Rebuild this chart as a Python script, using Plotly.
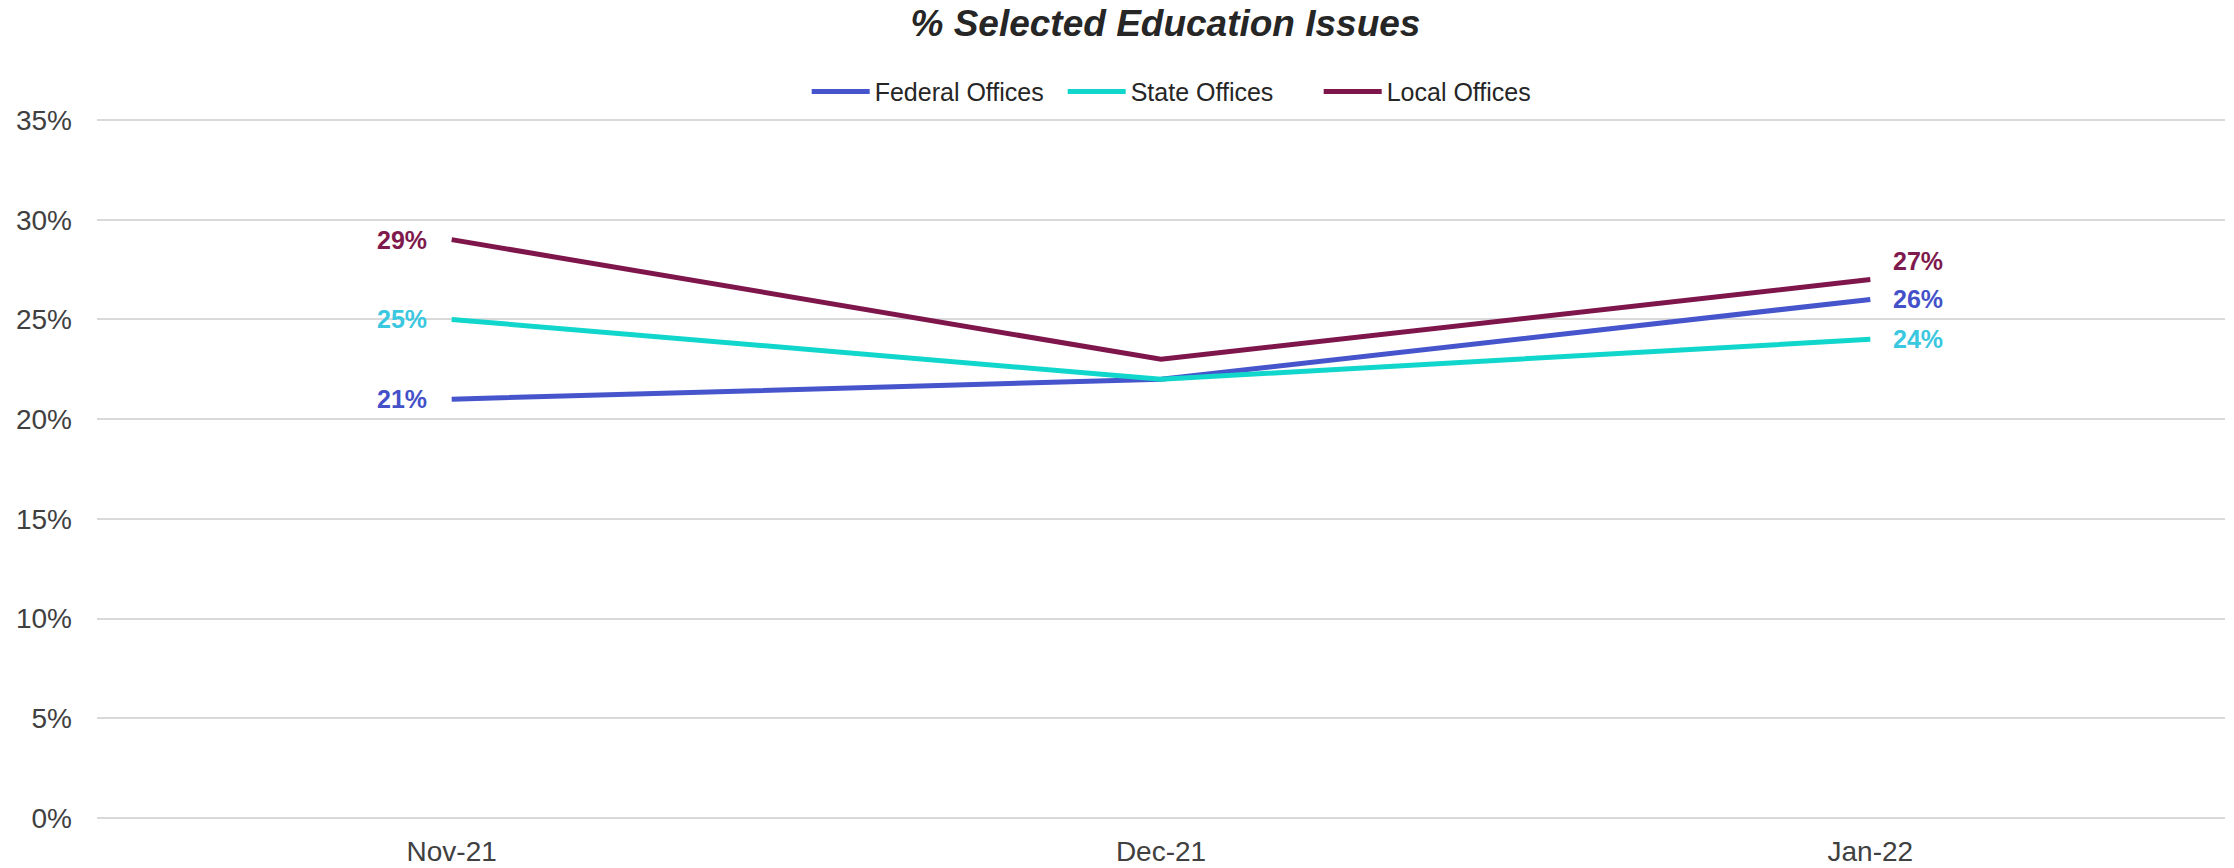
"""Line chart: % Selected Education Issues by office level."""
import plotly.graph_objects as go

months = ["Nov-21", "Dec-21", "Jan-22"]
federal = [21, 22, 26]
state = [25, 22, 24]
local = [29, 23, 27]

y_ticks = [0, 5, 10, 15, 20, 25, 30, 35]
y_tick_labels = [f"{v}%" for v in y_ticks]

_FONT = "Liberation Sans, Arial, sans-serif"

# name, values, line colour, label colour, vertical nudge of the last label
series = [
    ("Federal Offices", federal, "#4655cc", "#4451c9", 0),
    ("State Offices", state, "#10d6cb", "#3ac7e0", 0),
    ("Local Offices", local, "#7e164c", "#7e1a4d", 19),
]

fig = go.Figure()
for name, values, line_color, label_color, last_nudge in series:
    fig.add_trace(
        go.Scatter(
            x=months,
            y=values,
            name=name,
            mode="lines",
            line=dict(color=line_color, width=5),
            hoverinfo="x+y+name",
        )
    )
    # first and last point carry a bold value label
    fig.add_annotation(
        x=months[0], y=values[0], text=f"<b>{values[0]}%</b>",
        showarrow=False, xanchor="right", yanchor="middle", xshift=-23,
        font=dict(family=_FONT, size=25, color=label_color),
    )
    fig.add_annotation(
        x=months[-1], y=values[-1], text=f"<b>{values[-1]}%</b>",
        showarrow=False, xanchor="left", yanchor="middle", xshift=21, yshift=last_nudge,
        font=dict(family=_FONT, size=25, color=label_color),
    )

fig.update_layout(
    width=2234,
    height=868,
    template="simple_white",
    paper_bgcolor="white",
    plot_bgcolor="white",
    font=dict(family=_FONT, color="#404040"),
    title=dict(
        text="<b><i>% Selected Education Issues</i></b>",
        x=0.5217,
        xanchor="center",
        y=0.973,
        yanchor="middle",
        automargin=False,
        font=dict(family=_FONT, size=37, color="#262626"),
    ),
    legend=dict(
        orientation="h",
        x=0.3335,
        xanchor="left",
        y=1.0375,
        yanchor="middle",
        font=dict(family=_FONT, size=25, color="#262626"),
        itemwidth=58,
        entrywidth=183,
        traceorder="normal",
    ),
    margin=dict(l=97, r=9, t=118, b=48, autoexpand=False),
)

fig.update_xaxes(
    range=[-0.5, 2.5],
    showline=False,
    ticks="",
    showgrid=False,
    automargin=False,
    tickfont=dict(family=_FONT, size=28, color="#404040"),
    ticklabelstandoff=12,
)
fig.update_yaxes(
    range=[-0.1, 35.1],
    tickmode="array",
    tickvals=y_ticks,
    ticktext=y_tick_labels,
    showline=False,
    ticks="",
    showgrid=True,
    gridcolor="#d9d9d9",
    gridwidth=2,
    zeroline=False,
    automargin=False,
    tickfont=dict(family=_FONT, size=28, color="#404040"),
    ticklabelstandoff=24,
)

# the page's default body margin would push the chart 8px off the window
fig.write_html(
    "out.html",
    config={"displayModeBar": False},
    post_script="document.body.style.margin = '0';",
)
